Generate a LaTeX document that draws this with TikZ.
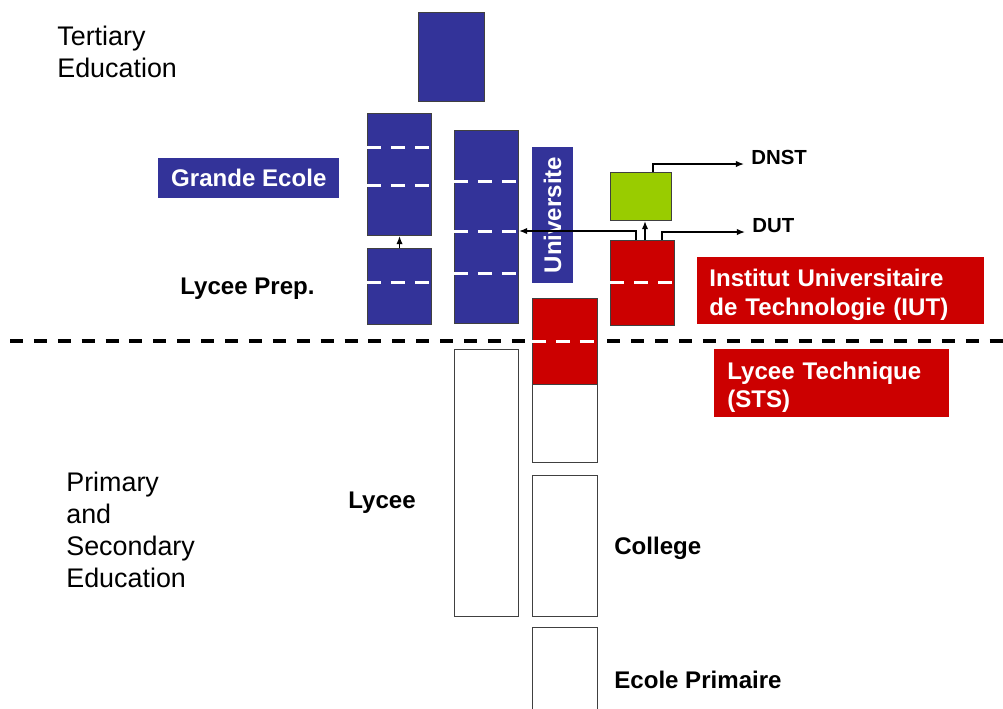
\documentclass[tikz,border=0pt]{standalone}
\usepackage{fontspec}
\setmainfont{Liberation Sans}
\usepackage{xcolor}
\usepackage{tikz}
\usetikzlibrary{calc,arrows.meta}
\definecolor{ueblue}{RGB}{51,51,153}
\definecolor{uered}{RGB}{204,0,0}
\definecolor{uegreen}{RGB}{153,204,0}
\begin{document}
\begin{tikzpicture}[x=0.02cm,y=-0.02cm,
		box/.style={draw=black!75,line width=0.6pt,anchor=north west,inner sep=0pt,minimum width=1.28cm},
		bluebox/.style={box,fill=ueblue},
		redbox/.style={box,fill=uered},
		greenbox/.style={box,fill=uegreen},
		whitebox/.style={box,fill=white},
		sep/.style={white,line width=1.7pt,dash pattern=on 7.9pt off 5.7pt},
		divider/.style={black,line width=2.3pt,dash pattern=on 7.4pt off 6.2pt},
		conn/.style={-{Latex[length=4.6pt,width=3.6pt]},line width=0.75pt},
		bigtext/.style={anchor=north west,inner sep=0pt,align=left,font=\fontsize{15.3}{18.1}\selectfont},
		boldtext/.style={anchor=base west,inner sep=0pt,font=\fontsize{13.7}{16}\selectfont\bfseries},
		smalltext/.style={anchor=base west,inner xsep=0.14cm,inner ysep=0pt,font=\fontsize{11.6}{14}\selectfont\bfseries},
		tag/.style={anchor=north west,inner ysep=0pt,text=white,font=\fontsize{13.7}{16}\selectfont\bfseries}]
		\useasboundingbox (0,0) rectangle (1003,708);
		\coordinate (DL) at (10,341);
		\coordinate (DR) at (1003,341);
		\draw[divider] (DL) -- (DR);
		\node[bluebox,minimum width=1.32cm,minimum height=1.78cm] (top) at (418,12) {};
		\node[bluebox,minimum height=2.44cm] (ge) at (367,113) {};
		\node[bluebox,minimum height=1.52cm] (prep) at (367,248) {};
		\node[bluebox,minimum height=3.86cm] (univ) at (454,130) {};
		\node[greenbox,minimum width=1.22cm,minimum height=0.96cm] (green) at (610,172) {};
		\node[redbox,minimum height=1.70cm] (iut) at (610,240) {};
		\node[redbox,minimum width=1.3cm,minimum height=1.72cm] (sts) at (532,298) {};
		\node[whitebox,minimum width=1.3cm,minimum height=1.56cm] (stslow) at (532,384) {};
		\node[whitebox,minimum height=5.34cm] (lycee) at (454,349) {};
		\node[whitebox,minimum width=1.3cm,minimum height=2.82cm] (college) at (532,475) {};
		\node[whitebox,minimum width=1.3cm,minimum height=2.0cm] (primaire) at (532,627) {};
		\draw[sep] ($(ge.north west)+(0,34)$) -- ($(ge.north east)+(0,34)$);
		\draw[sep] ($(ge.north west)+(0,72)$) -- ($(ge.north east)+(0,72)$);
		\draw[sep] ($(prep.north west)+(0,34)$) -- ($(prep.north east)+(0,34)$);
		\draw[sep] ($(univ.north west)+(0,51)$) -- ($(univ.north east)+(0,51)$);
		\draw[sep] ($(univ.north west)+(0,101)$) -- ($(univ.north east)+(0,101)$);
		\draw[sep] ($(univ.north west)+(0,143)$) -- ($(univ.north east)+(0,143)$);
		\draw[sep] ($(iut.north west)+(0,42)$) -- ($(iut.north east)+(0,42)$);
		\draw[sep] ($(sts.north west)+(0,43)$) -- ($(sts.north east)+(0,43)$);
		\node[tag,fill=ueblue,anchor=center,rotate=90,inner sep=0pt,minimum width=2.72cm,minimum height=0.82cm] (univlbl) at (552.5,215) {Universite};
		\node[tag,fill=ueblue,inner sep=0pt,minimum width=3.62cm,minimum height=0.8cm] (gelbl) at (158,158) {Grande Ecole};
		\node[tag,fill=uered,inner xsep=0.24cm,text width=5.26cm,align=left,minimum height=1.34cm] (iutlbl) at (697,257) {\rule{0pt}{14.5pt}Institut Universitaire\\de Technologie (IUT)};
		\node[tag,fill=uered,inner xsep=0.26cm,text width=4.18cm,align=left,minimum height=1.36cm] (stslbl) at (714,349) {\rule{0pt}{14.5pt}Lycee Technique\\(STS)};
		\node[smalltext] (dnst) at (744,164) {DNST};
		\node[smalltext] (dut) at (745,232) {DUT};
		\coordinate (U) at ($(iut.north west)+(26,0)$);
		\coordinate (V) at ($(iut.north west)+(35,0)$);
		\coordinate (W) at ($(iut.north west)+(52,0)$);
		\coordinate (G) at ($(green.north west)+(43,0)$);
		\draw[conn] (prep.north) -- (ge.south);
		\draw[conn] (U) |- ($(univ.north east)+(0,101)$);
		\draw[conn] (V) -- (V |- green.south);
		\draw[conn] (W) |- (dut.base west);
		\draw[conn] (G) |- (dnst.base west);
		\node[bigtext] (tert) at (57,26) {Tertiary\\Education};
		\node[bigtext] (primsec) at (66,472) {Primary\\and\\Secondary\\Education};
		\node[boldtext] (preplbl) at (180,294) {Lycee Prep.};
		\node[boldtext] (lyceelbl) at (348,508) {Lycee};
		\node[boldtext] (collegelbl) at (614,554) {College};
		\node[boldtext] (primairelbl) at (614,688) {Ecole Primaire};
	\end{tikzpicture}
\end{document}
